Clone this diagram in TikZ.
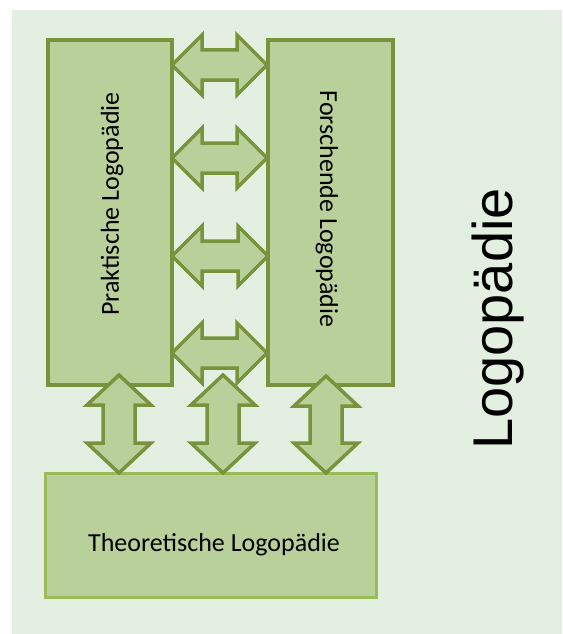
\documentclass[tikz,border=0pt]{standalone}
\usepackage{fontspec}
\setmainfont{Carlito}
\newfontfamily\bigsans{Liberation Sans}
\definecolor{bggreen}{RGB}{226,239,225}
\definecolor{boxfill}{RGB}{185,208,154}
\definecolor{darkolive}{RGB}{119,147,60}
\definecolor{lightolive}{RGB}{155,187,89}
\tikzset{
  boxtop/.style={draw=darkolive, line width=3.5pt, fill=boxfill},
  boxbottom/.style={draw=lightolive, line width=3pt, fill=boxfill},
  fatarrow/.style={draw=darkolive, line width=3.5pt, fill=boxfill, line join=miter},
  smalltext/.style={font=\fontsize{26}{30}\selectfont, inner sep=0pt},
}
\newcommand{\hfat}[3]{%
  \draw[fatarrow] (#1,#3) -- (#1+30,#3-30) -- (#1+30,#3-15) -- (#2-30,#3-15) -- (#2-30,#3-30) -- (#2,#3) -- (#2-30,#3+30) -- (#2-30,#3+15) -- (#1+30,#3+15) -- (#1+30,#3+30) -- cycle;}
\newcommand{\vfat}[3]{%
  \draw[fatarrow] (#3,#1) -- (#3+32,#1+30) -- (#3+16,#1+30) -- (#3+16,#2-30) -- (#3+32,#2-30) -- (#3,#2) -- (#3-32,#2-30) -- (#3-16,#2-30) -- (#3-16,#1+30) -- (#3-32,#1+30) -- cycle;}
\begin{document}
\begin{tikzpicture}[x=1pt,y=-1pt]
\useasboundingbox (0,0) rectangle (562,634);
\fill[bggreen] (12,10) rectangle (562,634);
% boxes
\draw[boxtop] (48,40) rectangle (172,385);
\node (prak) at (110,212) {};
\draw[boxtop] (268,40) rectangle (393,385);
\node (forsch) at (330,212) {};
\node[smalltext, rotate=90] (praktext) at (112,204) {Praktische Logopädie};
\node[smalltext, rotate=-90] (forschtext) at (327,209) {Forschende Logopädie};
% horizontal arrows
\hfat{172}{267}{65}
\hfat{172}{267}{158}
\hfat{172}{268}{256}
\hfat{172}{267}{353}
% bottom box
\draw[boxbottom] (45,473) rectangle (376,597);
\node[smalltext, anchor=base] (theotext) at (214,551) {Theoretische Logopädie};
% vertical arrows
\vfat{375}{473}{119}
\vfat{375}{473}{223}
\vfat{376}{473}{326}
% big label
\node[font=\bigsans\fontsize{56}{60}\selectfont, rotate=90, anchor=base, inner sep=0pt] (title) at (512,319) {Logopädie};
\end{tikzpicture}
\end{document}
